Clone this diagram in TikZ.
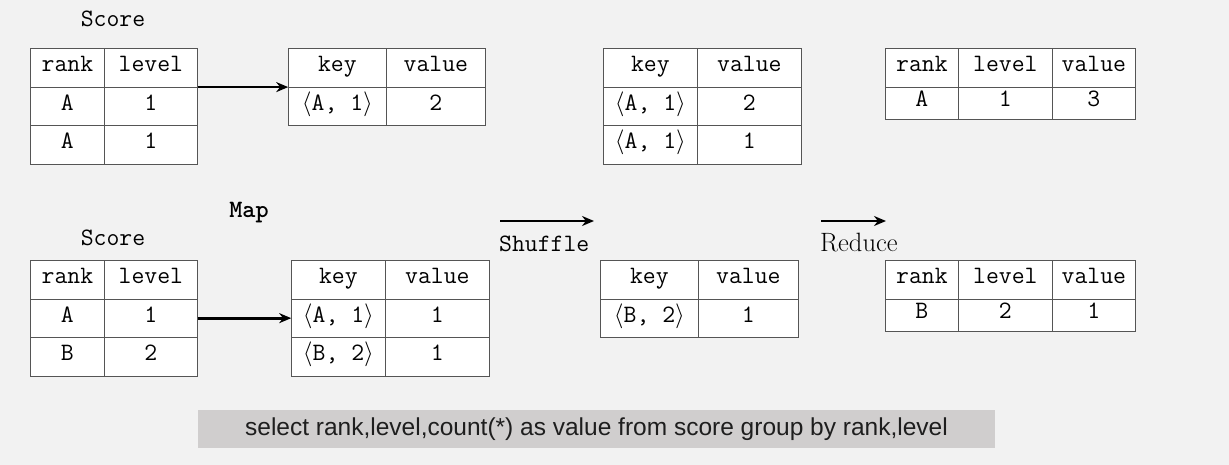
\documentclass[tikz,border=0pt]{standalone}
\usepackage{fontspec}
\newfontfamily\querysans{Liberation Sans}
\usetikzlibrary{matrix,arrows.meta,positioning}
\definecolor{bggray}{RGB}{242,242,242}
\definecolor{linegray}{RGB}{85,85,85}
\definecolor{boxgray}{RGB}{208,206,206}
\definecolor{querytext}{RGB}{30,30,30}
\newcommand\celltxt{\fontsize{25}{28}\selectfont\ttfamily}
\newcommand\pairAB[2]{$\langle$#1, #2$\rangle$}
\begin{document}
\begin{tikzpicture}[
            x=1pt, y=-1pt,
            cell/.style={draw=linegray, fill=white, inner sep=0pt, minimum height=38.5pt,
                text height=2.2ex, text depth=0.3ex, anchor=center, font=\celltxt},
            tbl/.style={matrix of nodes, anchor=north west, inner sep=0pt,
                column sep=-\pgflinewidth, row sep=-\pgflinewidth, nodes={cell}},
            lbl/.style={inner sep=0pt, font=\celltxt},
            flow/.style={-{Stealth[length=12pt,width=10pt]}, line width=2.8pt, black},
            query/.style={fill=boxgray, inner sep=0pt, minimum width=797pt, minimum height=38pt,
                text=querytext, font=\querysans\fontsize{24.5}{28}\selectfont}
        ]
        \fill[bggray] (0,0) rectangle (1229,465);
        \useasboundingbox (0,0) rectangle (1229,465);

        % map, first split
        \node[lbl] (score1) at (113,19) {Score};
        \matrix (t1) [tbl, column 1/.style={nodes={minimum width=74pt}},
            column 2/.style={nodes={minimum width=93pt}}] at (30,48) {
            rank & level \\
            A & 1 \\
            A & 1 \\
        };
        \matrix (t2) [tbl, column 1/.style={nodes={minimum width=98pt}},
            column 2/.style={nodes={minimum width=99pt}}] at (288,48) {
            key & value \\
            \pairAB{A}{1} & 2 \\
        };
        \draw[flow] (t1-1-2.south east) -- (t2-1-1.south west);

        % map, second split
        \node[lbl, font=\celltxt\bfseries] (map) at (249,213) {Map};
        \node[lbl] (score2) at (113,238) {Score};
        \matrix (t5) [tbl, column 1/.style={nodes={minimum width=74pt}},
            column 2/.style={nodes={minimum width=93pt}}] at (30,260) {
            rank & level \\
            A & 1 \\
            B & 2 \\
        };
        \matrix (t6) [tbl, column 1/.style={nodes={minimum width=94pt}},
            column 2/.style={nodes={minimum width=104pt}}] at (291,260) {
            key & value \\
            \pairAB{A}{1} & 1 \\
            \pairAB{B}{2} & 1 \\
        };
        \draw[flow] (t5-2-2.east) -- (t6-2-1.west);

        % shuffle
        \coordinate (shufS) at (500,221);
        \coordinate (shufE) at (594,221);
        \draw[flow] (shufS) -- (shufE);
        \node[lbl, anchor=west] (shuffle) at (499,244) {Shuffle};
        \matrix (t3) [tbl, column 1/.style={nodes={minimum width=94pt}},
            column 2/.style={nodes={minimum width=104pt}}] at (603,48) {
            key & value \\
            \pairAB{A}{1} & 2 \\
            \pairAB{A}{1} & 1 \\
        };
        \matrix (t7) [tbl, column 1/.style={nodes={minimum width=98pt}},
            column 2/.style={nodes={minimum width=100pt}}] at (600,260) {
            key & value \\
            \pairAB{B}{2} & 1 \\
        };

        % reduce
        \coordinate (redS) at (821,221);
        \coordinate (redE) at (886,221);
        \draw[flow] (redS) -- (redE);
        \node[inner sep=0pt, anchor=west, font=\fontsize{26.5}{30}\selectfont] (reduce) at (820,243) {Reduce};
        \matrix (t4) [tbl, column 1/.style={nodes={minimum width=73pt}},
            column 2/.style={nodes={minimum width=94pt}},
            column 3/.style={nodes={minimum width=83pt}},
            row 2/.style={nodes={minimum height=32pt}}] at (885,48) {
            rank & level & value \\
            A & 1 & 3 \\
        };
        \matrix (t8) [tbl, column 1/.style={nodes={minimum width=73pt}},
            column 2/.style={nodes={minimum width=94pt}},
            column 3/.style={nodes={minimum width=83pt}},
            row 2/.style={nodes={minimum height=32pt}}] at (885,260) {
            rank & level & value \\
            B & 2 & 1 \\
        };

        \node[query] (sql) at (596.5,429) {select rank,level,count(*) as value from score group by rank,level};
    \end{tikzpicture}
\end{document}
